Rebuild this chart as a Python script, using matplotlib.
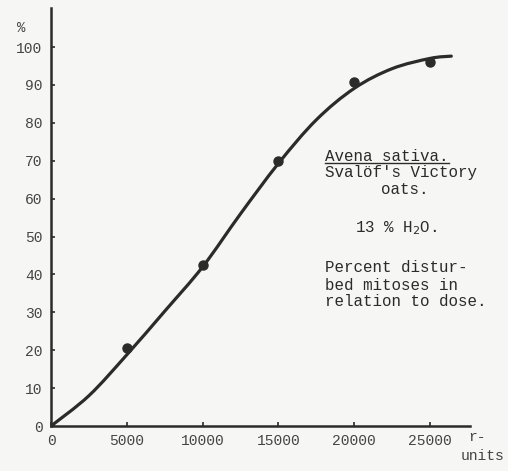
import matplotlib.pyplot as plt
from matplotlib.path import Path
from matplotlib.patches import PathPatch

# measured points (dose in r-units, % disturbed mitoses)
dose = [5000, 10000, 15000, 20000, 25000]
percent = [20.6, 42.5, 70.0, 90.7, 96.0]

# hand-drawn curve
curve_x = [0, 2500, 5000, 7500, 10000, 12500, 15000, 17500, 20000, 22500, 25000, 26400]
curve_y = [0, 8.0, 18.8, 30.3, 42.0, 56.0, 69.3, 80.8, 89.1, 94.3, 97.0, 97.6]

xticks = [0, 5000, 10000, 15000, 20000, 25000]
yticks = [0, 10, 20, 30, 40, 50, 60, 70, 80, 90, 100]

ink = "#2b2b2b"
type_font = "Liberation Mono"
bg = "#f6f6f4"

fig = plt.figure(figsize=(5.08, 4.71), dpi=100, facecolor=bg)
ax = fig.add_axes([0.1004, 0.0955, 0.825, 0.8875], facecolor=bg)

# smooth pen line through the read points (Catmull-Rom as cubic Bezier segments)
verts = [(curve_x[0], curve_y[0])]
codes = [Path.MOVETO]
n = len(curve_x)
for i in range(n - 1):
    p0 = (curve_x[max(i - 1, 0)], curve_y[max(i - 1, 0)])
    p1 = (curve_x[i], curve_y[i])
    p2 = (curve_x[i + 1], curve_y[i + 1])
    p3 = (curve_x[min(i + 2, n - 1)], curve_y[min(i + 2, n - 1)])
    c1 = (p1[0] + (p2[0] - p0[0]) / 6, p1[1] + (p2[1] - p0[1]) / 6)
    c2 = (p2[0] - (p3[0] - p1[0]) / 6, p2[1] - (p3[1] - p1[1]) / 6)
    verts += [c1, c2, p2]
    codes += [Path.CURVE4] * 3
ax.add_patch(PathPatch(Path(verts, codes), facecolor="none", edgecolor=ink,
                       linewidth=2.3, capstyle="round"))
ax.plot(dose, percent, "o", color=ink, markersize=6.5)

ax.set_xlim(0, 27640)
ax.set_ylim(0, 110.3)
ax.set_xticks(xticks)
ax.set_yticks(yticks)
ax.set_xticklabels([str(t) for t in xticks], family=type_font, fontsize=10.5, color="#444444")
ax.set_yticklabels([str(t) for t in yticks], family=type_font, fontsize=10.5, color="#444444")
ax.tick_params(direction="in", length=3, width=1.2, color=ink, pad=6)

for side in ["top", "right"]:
    ax.spines[side].set_visible(False)
for side in ["left", "bottom"]:
    ax.spines[side].set_linewidth(1.8)
    ax.spines[side].set_color(ink)

# axis labels in typewriter style
fig.text(21 / 508, 1 - 28 / 471, "%", family=type_font, fontsize=10, color="#444444",
         ha="center", va="center")
fig.text(477 / 508, 1 - 437 / 471, "r-", family=type_font, fontsize=10.5, color="#444444",
         ha="center", va="center")
fig.text(482 / 508, 1 - 456 / 471, "units", family=type_font, fontsize=10.5, color="#444444",
         ha="center", va="center")

# annotation block
tx = 325 / 508
fs = 11.4
fig.text(tx, 1 - 157 / 471, "Avena sativa.", family=type_font, fontsize=fs, color=ink,
         ha="left", va="center")
fig.add_artist(plt.Line2D([325 / 508, 449 / 508], [1 - 163 / 471, 1 - 163 / 471],
                          color=ink, linewidth=1.0))
fig.text(tx, 1 - 173 / 471, "Svalöf's Victory", family=type_font, fontsize=fs, color=ink,
         ha="left", va="center")
fig.text(405 / 508, 1 - 190 / 471, "oats.", family=type_font, fontsize=fs, color=ink,
         ha="center", va="center")
fig.text(355 / 508, 1 - 228 / 471, r"13 % H$_2$O.", family=type_font, fontsize=fs, color=ink,
         ha="left", va="center")
fig.text(tx, 1 - 268 / 471, "Percent distur-", family=type_font, fontsize=fs, color=ink,
         ha="left", va="center")
fig.text(tx, 1 - 285 / 471, "bed mitoses in", family=type_font, fontsize=fs, color=ink,
         ha="left", va="center")
fig.text(tx, 1 - 302 / 471, "relation to dose.", family=type_font, fontsize=fs, color=ink,
         ha="left", va="center")

fig.savefig("out.png", dpi=100, facecolor=bg)
